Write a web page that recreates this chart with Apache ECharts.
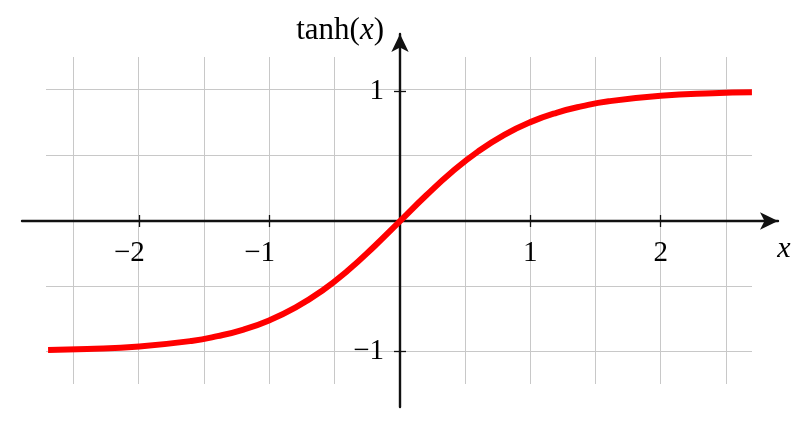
<!DOCTYPE html>
<html>
<head>
<meta charset="utf-8">
<script src="https://cdn.jsdelivr.net/npm/echarts@6/dist/echarts.min.js"></script>
<style>
  html, body { margin: 0; padding: 0; background: #fff; }
  #chart { width: 800px; height: 440px; }
</style>
</head>
<body>
<div id="chart"></div>
<script>
// points
const xValues = [-2.7, -2.4, -2.0, -1.6, -1.4, -1.2, -1.0, -0.8, -0.6, -0.4, -0.2, 0,
  0.2, 0.4, 0.6, 0.8, 1.0, 1.2, 1.4, 1.6, 2.0, 2.4, 2.7];
const yValues = [-0.991, -0.984, -0.964, -0.922, -0.885, -0.834, -0.762, -0.664, -0.537, -0.38, -0.197, 0,
  0.197, 0.38, 0.537, 0.664, 0.762, 0.834, 0.885, 0.922, 0.964, 0.984, 0.991];
const xTicks = [-2, -1, 1, 2];
const yTicks = [-1, 1];

const FONT = 'Liberation Serif';
const AXIS_COLOR = '#111';
const chart = echarts.init(document.getElementById('chart'));

function fmt(v) {
  if (v < 0) return '{n|\u2212' + Math.abs(v) + '}';
  return '{p|' + v + '}';
}

const labelRich = {
  n: { fontFamily: FONT, fontSize: 29, color: '#000', padding: [0, 20, 0, 0] },
  p: { fontFamily: FONT, fontSize: 29, color: '#000' }
};

const hidden = { show: false };
const tickStyle = { color: AXIS_COLOR, width: 1.3 };
const lineStyle = { color: AXIS_COLOR, width: 2.4 };
const X_MIN = -2.9, X_MAX = 2.9, Y_MIN = -1.43, Y_MAX = 1.44;

function dummy(gridIndex, min, max) {
  return { type: 'value', gridIndex: gridIndex, min: min, max: max, show: false };
}

chart.setOption({
  animation: false,
  backgroundColor: '#fff',
  grid: [
    // 0: background grid lines
    { left: 46, right: 48, top: 57, bottom: 56, outerBoundsMode: 'none', containLabel: false },
    // 1: curve
    { left: 22, right: 22, top: 34, bottom: 33, outerBoundsMode: 'none', containLabel: false },
    // 2: horizontal axis, bottom edge on y = 0
    { left: 22, right: 22, top: 34, bottom: 219, outerBoundsMode: 'none', containLabel: false },
    // 3: vertical axis, left edge on x = 0
    { left: 400, right: 22, top: 34, bottom: 33, outerBoundsMode: 'none', containLabel: false }
  ],
  xAxis: [{
    type: 'value', gridIndex: 0, min: -2.71, max: 2.7, splitNumber: 10,
    axisLine: hidden, axisTick: hidden, axisLabel: hidden,
    splitLine: { show: true, showMinLine: false, showMaxLine: false, lineStyle: { color: '#c8c8c8', width: 1 } }
  },
  dummy(1, X_MIN, X_MAX),
  {
    type: 'value', gridIndex: 2, min: X_MIN, max: X_MAX, position: 'bottom',
    axisLine: { show: true, onZero: false, symbol: ['none', 'arrow'], symbolSize: [13, 18], lineStyle: lineStyle },
    axisTick: { show: true, inside: false, length: 6, customValues: xTicks, lineStyle: tickStyle },
    axisLabel: { show: true, customValues: xTicks, margin: 18, formatter: fmt, rich: labelRich },
    splitLine: hidden,
    name: 'x', nameLocation: 'end', nameGap: 6,
    nameTextStyle: { fontFamily: FONT, fontStyle: 'italic', fontSize: 30, color: '#000',
      align: 'center', verticalAlign: 'top', padding: [13, 0, 0, 0] }
  }, {
    type: 'value', gridIndex: 2, min: X_MIN, max: X_MAX, position: 'bottom',
    axisLine: { show: false, onZero: false },
    axisTick: { show: true, inside: true, length: 6, customValues: xTicks, lineStyle: tickStyle },
    axisLabel: hidden, splitLine: hidden
  },
  dummy(3, 0, 1)],
  yAxis: [{
    type: 'value', gridIndex: 0, min: -1.25, max: 1.25, splitNumber: 5,
    axisLine: hidden, axisTick: hidden, axisLabel: hidden,
    splitLine: { show: true, showMinLine: false, showMaxLine: false, lineStyle: { color: '#c8c8c8', width: 1 } }
  },
  dummy(1, Y_MIN, Y_MAX),
  dummy(2, 0, 1),
  {
    type: 'value', gridIndex: 3, min: Y_MIN, max: Y_MAX, position: 'left',
    axisLine: { show: true, onZero: false, symbol: ['none', 'arrow'], symbolSize: [13, 18], lineStyle: lineStyle },
    axisTick: { show: true, inside: false, length: 6, customValues: yTicks, lineStyle: tickStyle },
    axisLabel: { show: true, customValues: yTicks, margin: 16, formatter: function (v) {
      return (v < 0 ? '\u2212' : '') + Math.abs(v);
    }, fontFamily: FONT, fontSize: 29, color: '#000' },
    splitLine: hidden,
    name: '{a|tanh(}{b|x}{a|)}', nameLocation: 'end', nameGap: 3,
    nameTextStyle: {
      align: 'right', verticalAlign: 'middle', padding: [0, 16, 0, 0],
      rich: {
        a: { fontFamily: FONT, fontSize: 31, color: '#000' },
        b: { fontFamily: FONT, fontSize: 31, fontStyle: 'italic', color: '#000' }
      }
    }
  }, {
    type: 'value', gridIndex: 3, min: Y_MIN, max: Y_MAX, position: 'left',
    axisLine: { show: false, onZero: false },
    axisTick: { show: true, inside: true, length: 6, customValues: yTicks, lineStyle: tickStyle },
    axisLabel: hidden, splitLine: hidden
  }],
  series: [{
    name: 'tanh',
    type: 'line',
    xAxisIndex: 1,
    yAxisIndex: 1,
    smooth: true,
    symbol: 'none',
    clip: false,
    lineStyle: { color: '#ff0000', width: 6 },
    data: xValues.map((x, i) => [x, yValues[i]]),
    z: 5
  }]
});
</script>
</body>
</html>
